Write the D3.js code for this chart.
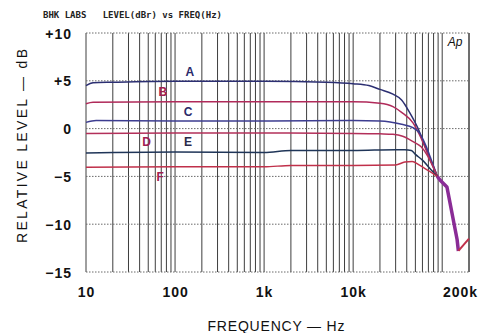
<!DOCTYPE html>
<html><head><meta charset="utf-8">
<script src="https://cdn.jsdelivr.net/npm/d3@7"></script>
<style>body{margin:0;background:#fff} svg{display:block}</style>
</head><body><svg id="c" width="491" height="333"></svg>
<script>
// ---- data ----
const xTickValues = [10, 100, 1000, 10000, 200000];
const xTickLabels = ["10", "100", "1k", "10k", "200k"];
const yTickValues = [10, 5, 0, -5, -10, -15];
const yTickLabels = ["+10", "+5", "0", "\u22125", "\u221210", "\u221215"];
const seriesNames = ["A", "B", "C", "D", "E", "F"];

const freqA  = [10, 12, 20, 100, 1000, 5000, 10000, 15000, 20000, 28000, 35000, 43000, 53000, 65000, 77000, 88000];
const levelA = [4.5, 4.8, 4.85, 4.95, 4.95, 4.85, 4.7, 4.5, 4.1, 3.6, 3.0, 1.7, 0.1, -2.0, -3.7, -5.0];
const freqB  = [10, 12, 100, 1000, 10000, 20000, 28000, 35000, 47000, 58000, 70000, 80000, 88000];
const levelB = [2.6, 2.75, 2.8, 2.8, 2.8, 2.65, 2.3, 1.7, 0.6, -1.0, -2.8, -4.0, -5.0];
const freqC  = [10, 13, 100, 1000, 10000, 20000, 35000, 47000, 56000, 65000, 75000, 88000];
const levelC = [0.65, 0.85, 0.8, 0.8, 0.85, 0.8, 0.45, 0.1, -0.5, -1.7, -3.2, -5.0];
const freqD  = [10, 100, 1000, 10000, 20000, 28000, 36000, 43000, 50000, 58000, 68000, 78000, 88000];
const levelD = [-0.5, -0.45, -0.45, -0.5, -0.55, -0.6, -0.8, -1.15, -1.5, -1.9, -2.8, -3.9, -5.0];
const freqE  = [10, 100, 1000, 2000, 10000, 30000, 38000, 45000, 50000, 60000, 75000, 88000];
const levelE = [-2.55, -2.45, -2.5, -2.3, -2.3, -2.2, -2.2, -2.3, -2.7, -3.3, -4.3, -5.0];
const freqF  = [10, 100, 1000, 2000, 10000, 30000, 38000, 46000, 55000, 70000, 88000];
const levelF = [-4.05, -4.0, -4.0, -3.85, -3.85, -3.8, -3.5, -3.45, -3.8, -4.4, -5.0];

const tailFreq = [88000, 95000, 113000, 147000, 152000];
const tailLevel = [-5.0, -5.4, -6.1, -11.6, -12.8];
const reboundFreq = [152000, 200000];
const reboundLevel = [-12.8, -11.5];

const labelFreqs = [147, 73, 140, 48, 140, 68];
const labelLevels = [5.96, 3.87, 1.78, -1.36, -1.36, -5.0];

const seriesColors = ["#2c2f72", "#b02a5a", "#3d3d90", "#b3305a", "#1f3558", "#c0304a"];
const labelColors  = ["#2a2a6a", "#a02050", "#2a2a6a", "#a02050", "#2a2a4a", "#a02050"];

// ---- chart ----
const svg = d3.select("#c");
const x = d3.scaleLog().domain([10, 200000]).range([86, 469]);
const y = d3.scaleLinear().domain([-15, 10]).range([272, 33]);

// vertical log grid
const vGrid = [];
for (let d = 10; d < 200000; d *= 10) {
  for (let k = 1; k <= 9; k++) { const v = d * k; if (v <= 200000) vGrid.push(v); }
}
vGrid.push(200000);
svg.append("g").selectAll("line").data(vGrid).join("line")
  .attr("x1", d => x(d)).attr("x2", d => x(d))
  .attr("y1", y(10)).attr("y2", y(-15))
  .attr("stroke", "#3e3e3e").attr("stroke-width", 1);

// horizontal dotted grid
svg.append("g").selectAll("line").data(yTickValues).join("line")
  .attr("x1", x(10)).attr("x2", x(200000))
  .attr("y1", d => y(d)).attr("y2", d => y(d))
  .attr("stroke", "#6a6a6a").attr("stroke-width", 1)
  .attr("stroke-dasharray", "1.5,1.5");

// axes (labels only)
const xAxis = d3.axisBottom(x).tickValues(xTickValues)
  .tickFormat((d, i) => xTickLabels[i]).tickSize(0).tickPadding(0);
const gx = svg.append("g").attr("transform", `translate(0,${y(-15)})`).call(xAxis);
gx.select(".domain").remove();
gx.selectAll("text")
  .attr("y", 25).attr("dy", 0)
  .attr("x", d => Math.min(x(d), 460) - x(d))
  .style("font-family", "'Liberation Sans', Arial, sans-serif")
  .style("font-size", "14px").style("font-weight", "bold")
  .style("letter-spacing", "1px").attr("fill", "#111");

const yAxis = d3.axisLeft(y).tickValues(yTickValues)
  .tickFormat((d, i) => yTickLabels[i]).tickSize(0).tickPadding(0);
const gy = svg.append("g").attr("transform", `translate(72,0)`).call(yAxis);
gy.select(".domain").remove();
gy.selectAll("text")
  .attr("x", 0).attr("dy", "0.36em")
  .style("font-family", "'Liberation Sans', Arial, sans-serif")
  .style("font-size", "14px").style("font-weight", "bold")
  .style("letter-spacing", "1px").attr("fill", "#111");

// curves
const line = d3.line().x(d => x(d[0])).y(d => y(d[1])).curve(d3.curveMonotoneX);
const freqs = [freqA, freqB, freqC, freqD, freqE, freqF];
const levels = [levelA, levelB, levelC, levelD, levelE, levelF];
freqs.forEach((f, i) => {
  svg.append("path").datum(f.map((v, j) => [v, levels[i][j]]))
    .attr("d", line).attr("fill", "none")
    .attr("stroke", seriesColors[i]).attr("stroke-width", 1.5);
});
svg.append("path").datum(tailFreq.map((v, j) => [v, tailLevel[j]]))
  .attr("d", d3.line().x(d => x(d[0])).y(d => y(d[1])))
  .attr("fill", "none").attr("stroke", "#8a2c96").attr("stroke-width", 3.5)
  .attr("stroke-linejoin", "round");
svg.append("path").datum(reboundFreq.map((v, j) => [v, reboundLevel[j]]))
  .attr("d", d3.line().x(d => x(d[0])).y(d => y(d[1])))
  .attr("fill", "none").attr("stroke", "#c0304a").attr("stroke-width", 2);

// series labels
svg.append("g").selectAll("text").data(seriesNames).join("text")
  .attr("x", (d, i) => x(labelFreqs[i])).attr("y", (d, i) => y(labelLevels[i]))
  .attr("dy", "0.36em").attr("text-anchor", "middle")
  .style("font-family", "'Liberation Sans', Arial, sans-serif")
  .style("font-size", "12px").style("font-weight", "bold")
  .attr("fill", (d, i) => labelColors[i]).text(d => d);

// titles
svg.append("text").attr("x", 43).attr("y", 18)
  .attr("textLength", 179).attr("lengthAdjust", "spacingAndGlyphs")
  .style("white-space", "pre")
  .style("font-family", "'DejaVu Sans Mono', monospace")
  .style("font-size", "8px").style("font-weight", "bold").attr("fill", "#222")
  .text("BHK LABS   LEVEL(dBr) vs FREQ(Hz)");

svg.append("text").attr("x", 455).attr("y", 46).attr("text-anchor", "middle")
  .style("font-family", "'Liberation Sans', Arial, sans-serif")
  .style("font-size", "12px").style("font-style", "italic").attr("fill", "#111")
  .text("Ap");

svg.append("text").attr("x", 276).attr("y", 331).attr("text-anchor", "middle")
  .attr("textLength", 137).attr("lengthAdjust", "spacing")
  .style("font-family", "'Liberation Sans', Arial, sans-serif")
  .style("font-size", "14px").attr("fill", "#111")
  .text("FREQUENCY \u2014 Hz");

svg.append("text").attr("transform", "translate(27,146) rotate(-90)")
  .attr("text-anchor", "middle")
  .attr("textLength", 194).attr("lengthAdjust", "spacing")
  .style("font-family", "'Liberation Sans', Arial, sans-serif")
  .style("font-size", "14px").attr("fill", "#111")
  .text("RELATIVE LEVEL \u2014 dB");
</script></body></html>
